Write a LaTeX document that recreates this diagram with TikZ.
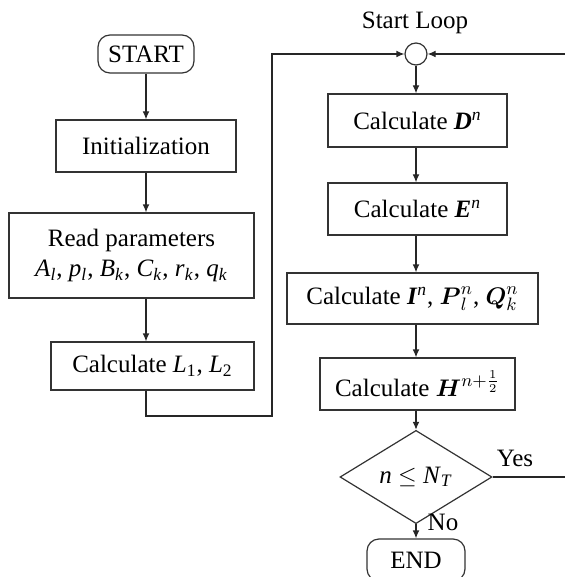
\documentclass[tikz,border=0pt]{standalone}
\usepackage{amsmath}
\usepackage{fontspec}
\setmainfont{Liberation Serif}
\usetikzlibrary{arrows.meta,shapes.geometric}
\tikzset{
  bx/.style={rectangle,draw=black!80,fill=white,line width=.6pt,inner sep=0pt,align=center},
  term/.style={bx,rounded corners=6pt},
  jn/.style={circle,draw=black!80,fill=white,line width=.6pt,minimum size=11pt,inner sep=0pt},
  dec/.style={diamond,draw=black!80,fill=white,line width=.6pt,minimum width=76pt,minimum height=30pt,inner sep=0pt},
  ln/.style={draw=black!85,line width=.6pt},
  arr/.style={ln,-{Latex[length=4pt,width=3.4pt]}},
  lb/.style={inner sep=0pt},
}

\begin{document}
\begin{tikzpicture}[x=0.5pt,y=-0.5pt,font=\fontsize{12.5}{15}\selectfont]
\useasboundingbox (0,0) rectangle (565,577);
% left column
\node[term,minimum width=48pt,minimum height=19pt] (start) at (146,54) {START};
\node[bx,minimum width=90pt,minimum height=26pt] (init) at (146,146) {Initialization};
\node[bx,minimum width=122.5pt,minimum height=42.5pt] (read) at (131.5,255.5)
  {Read parameters\\ \textit{A}\textsubscript{\textit{l}}, \textit{p}\textsubscript{\textit{l}}, \textit{B}\textsubscript{\textit{k}}, \textit{C}\textsubscript{\textit{k}}, \textit{r}\textsubscript{\textit{k}}, \textit{q}\textsubscript{\textit{k}}};
\node[bx,minimum width=101.5pt,minimum height=24pt] (calcL) at (152.5,366)
  {Calculate \textit{L}\textsubscript{1}, \textit{L}\textsubscript{2}};
\draw[arr] (start) -- (init);
\draw[arr] (init.south) -- (init.south |- read.north);
\draw[arr] (read.south -| init) -- (calcL.north -| init);
% the loop
\node[jn] (loop) at (416,54) {};
\node[lb] (sl) at (415,23) {Start Loop};
\coordinate (lc) at (272,416);
\coordinate (re) at (565,54);
\draw[arr] (calcL.south -| init) |- (lc) |- (loop.west);
\draw[arr] (re) -- (loop.east);
\node[bx,minimum width=89.5pt,minimum height=26.5pt] (D) at (417.5,120.5)
  {Calculate \textbf{\textit{D}}\textsuperscript{\textit{n}}};
\node[bx,minimum width=89.5pt,minimum height=26pt] (E) at (417.5,209)
  {Calculate \textbf{\textit{E}}\textsuperscript{\textit{n}}};
\node[bx,minimum width=125.5pt,minimum height=25.5pt] (I) at (412.5,298.5)
  {Calculate \textbf{\textit{I}}\textsuperscript{\textit{n}}, $\boldsymbol{P}_{l}^{n}$, $\boldsymbol{Q}_{k}^{n}$};
\node[bx,minimum width=97.5pt,minimum height=26pt] (H) at (417.5,384)
  {Calculate $\boldsymbol{H}^{n+\frac{1}{2}}$};
\node[dec] (chk) at (416,477) {\textit{n} $\le$ \textit{N}\textsubscript{\textit{T}}};
\node[term,minimum width=49pt,minimum height=21pt] (end) at (416,560) {END};
\draw[arr] (loop.south) -- (loop.south |- D.north);
\draw[arr] (D.south -| loop) -- (E.north -| loop);
\draw[arr] (E.south -| loop) -- (I.north -| loop);
\draw[arr] (I.south -| loop) -- (H.north -| loop);
\draw[arr] (H.south -| loop) -- (chk.north);
\draw[arr] (chk.south) -- (end.north -| chk);
\coordinate (ye) at (565,477);
\draw[ln] (chk.east) -- (ye);
\node[lb] at (515,458) {Yes};
\node[lb] at (443,522) {No};
\end{tikzpicture}
\end{document}
